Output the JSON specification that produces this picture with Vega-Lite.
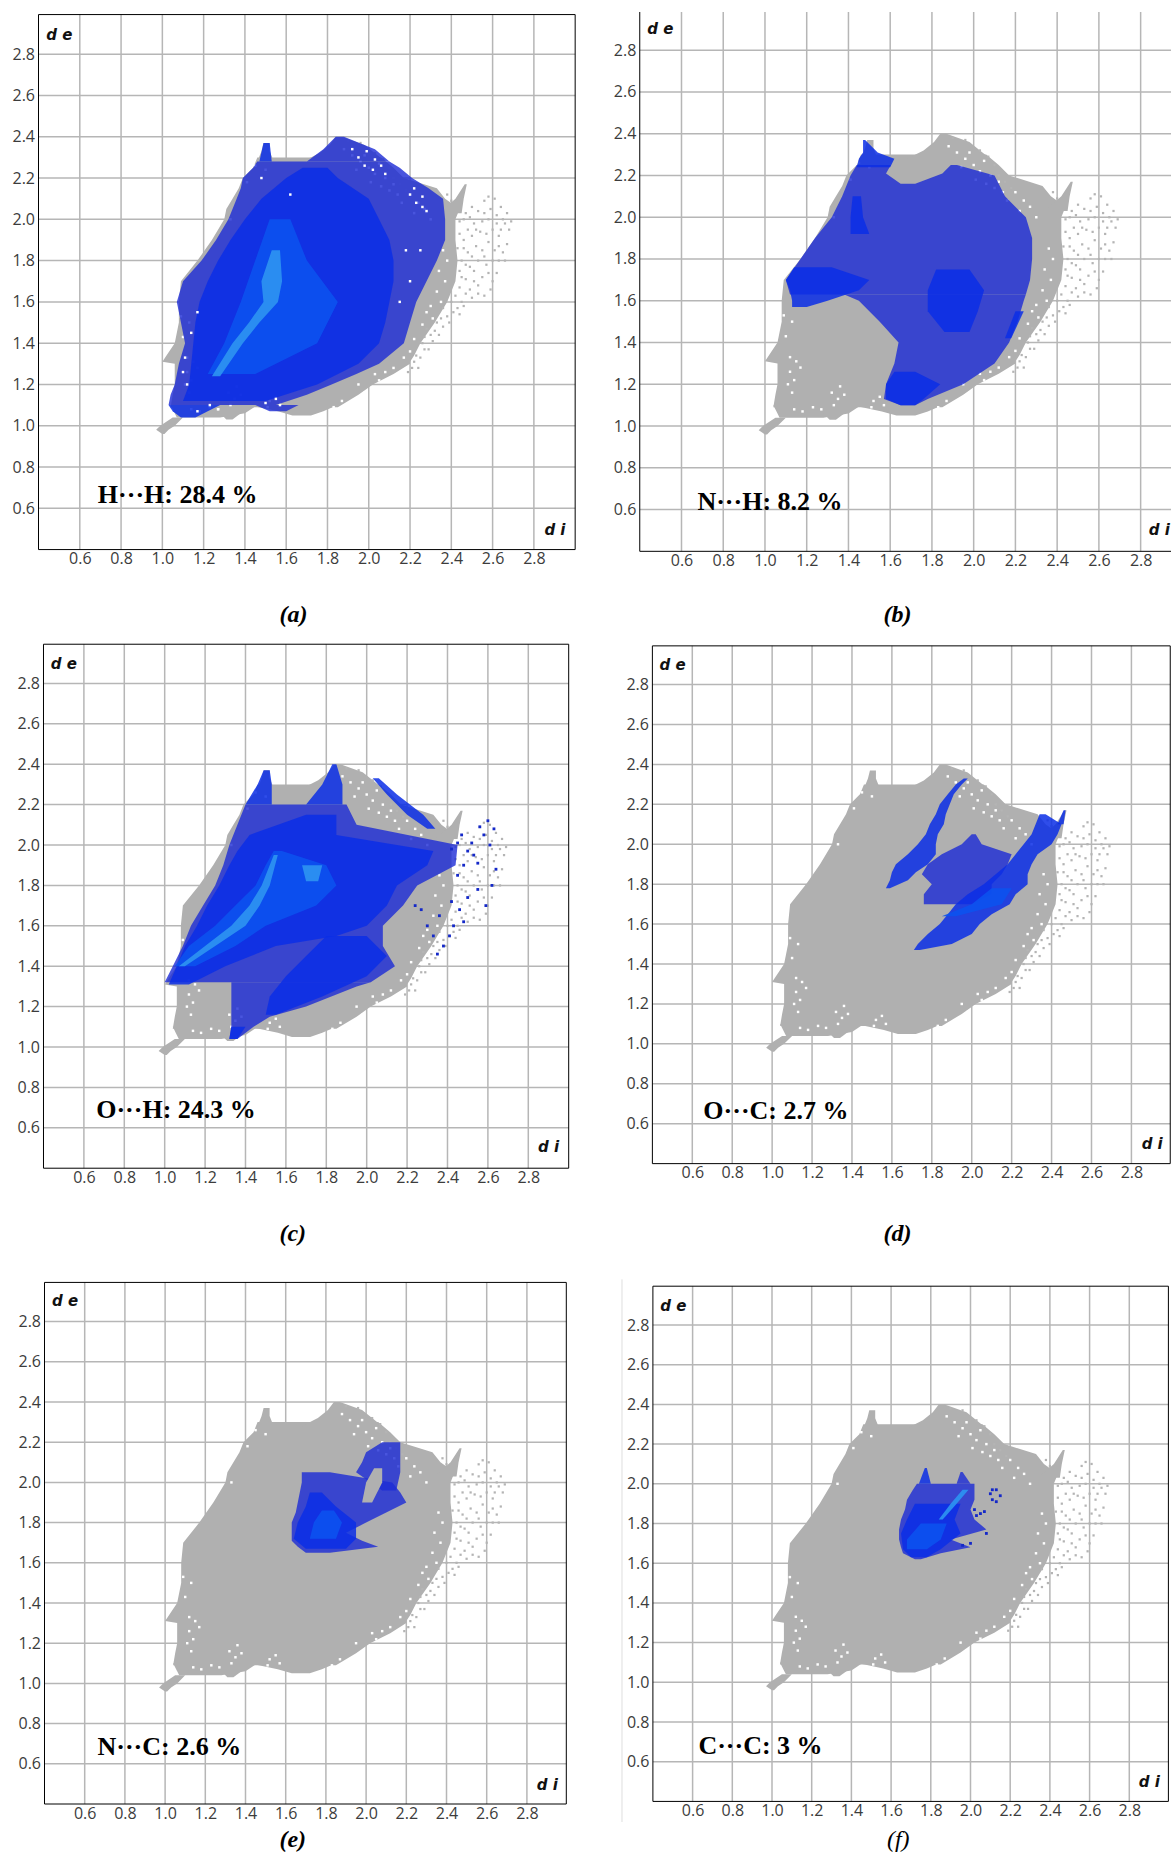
{"$schema":"https://vega.github.io/schema/vega-lite/v6.json","padding":0,"background":"white","spacing":0,"bounds":"full",
"config":{"view":{"stroke":null},"concat":{"spacing":0},"axis":{"title":null,"domain":false,"ticks":false,"grid":false,"labelFont":"Open Sans","labelFontSize":16,"labelColor":"#3c3c3c","labelOverlap":false,"labelFlush":false}},
"datasets":{
"ticks":[{"v":0.6},{"v":0.8},{"v":1.0},{"v":1.2},{"v":1.4},{"v":1.6},{"v":1.8},{"v":2.0},{"v":2.2},{"v":2.4},{"v":2.6},{"v":2.8}],
"grey":[
{"part":"tail","de":0.96,"di0":1.0,"di1":1.01},{"part":"tail","de":0.98,"di0":0.97,"di1":1.03},{"part":"tail","de":1.0,"di0":0.99,"di1":1.06},{"part":"tail","de":1.04,"di0":1.05,"di1":1.1},
{"part":"bl","de":1.04,"di0":1.07,"di1":1.28},{"part":"bl","de":1.06,"di0":1.06,"di1":1.4},{"part":"bl","de":1.1,"di0":1.04,"di1":1.46},
{"part":"bump","de":1.03,"di0":1.31,"di1":1.34},{"part":"bump","de":1.06,"di0":1.28,"di1":1.38},
{"part":"bm","de":1.05,"di0":1.63,"di1":1.72},{"part":"bm","de":1.07,"di0":1.56,"di1":1.78},{"part":"bm","de":1.1,"di0":1.42,"di1":1.85},
{"part":"main","de":1.09,"di0":1.04,"di1":1.85},{"part":"main","de":1.15,"di0":1.05,"di1":1.95},{"part":"main","de":1.2,"di0":1.06,"di1":2.02},{"part":"main","de":1.25,"di0":1.06,"di1":2.12},{"part":"main","de":1.3,"di0":1.06,"di1":2.2},{"part":"main","de":1.31,"di0":1.0,"di1":2.2},{"part":"main","de":1.34,"di0":1.02,"di1":2.22},{"part":"main","de":1.4,"di0":1.06,"di1":2.25},{"part":"main","de":1.5,"di0":1.08,"di1":2.32},{"part":"main","de":1.6,"di0":1.08,"di1":2.38},{"part":"main","de":1.7,"di0":1.09,"di1":2.42},{"part":"main","de":1.8,"di0":1.17,"di1":2.43},{"part":"main","de":1.9,"di0":1.24,"di1":2.42},{"part":"main","de":2.0,"di0":1.3,"di1":2.42},{"part":"main","de":2.05,"di0":1.31,"di1":2.44},{"part":"main","de":2.1,"di0":1.34,"di1":2.37},{"part":"main","de":2.15,"di0":1.37,"di1":2.33},{"part":"main","de":2.2,"di0":1.39,"di1":2.17},{"part":"main","de":2.25,"di0":1.44,"di1":2.12},{"part":"main","de":2.3,"di0":1.46,"di1":2.06},
{"part":"spike1","de":2.28,"di0":1.46,"di1":1.54},{"part":"spike1","de":2.33,"di0":1.48,"di1":1.52},{"part":"spike1","de":2.37,"di0":1.49,"di1":1.52},
{"part":"top","de":2.28,"di0":1.68,"di1":2.08},{"part":"top","de":2.32,"di0":1.76,"di1":2.03},{"part":"top","de":2.36,"di0":1.81,"di1":1.98},{"part":"top","de":2.4,"di0":1.84,"di1":1.87},
{"part":"spike2","de":2.03,"di0":2.34,"di1":2.45},{"part":"spike2","de":2.1,"di0":2.42,"di1":2.46},{"part":"spike2","de":2.17,"di0":2.465,"di1":2.475}],
"greyDots":[{"di":2.44,"de":1.99},{"di":2.47,"de":2.03},{"di":2.5,"de":2.06},{"di":2.53,"de":2.04},{"di":2.56,"de":2.09},{"di":2.58,"de":2.11},{"di":2.61,"de":2.1},{"di":2.64,"de":2.06},{"di":2.67,"de":2.03},{"di":2.69,"de":1.99},{"di":2.68,"de":1.95},{"di":2.66,"de":1.98},{"di":2.62,"de":2.02},{"di":2.58,"de":2.0},{"di":2.55,"de":1.99},{"di":2.51,"de":1.98},{"di":2.48,"de":1.95},{"di":2.46,"de":1.9},{"di":2.5,"de":1.92},{"di":2.54,"de":1.94},{"di":2.6,"de":1.95},{"di":2.63,"de":1.92},{"di":2.67,"de":1.88},{"di":2.65,"de":1.84},{"di":2.66,"de":1.8},{"di":2.61,"de":1.85},{"di":2.58,"de":1.89},{"di":2.55,"de":1.85},{"di":2.52,"de":1.87},{"di":2.48,"de":1.84},{"di":2.45,"de":1.8},{"di":2.44,"de":1.75},{"di":2.49,"de":1.77},{"di":2.53,"de":1.8},{"di":2.57,"de":1.78},{"di":2.6,"de":1.8},{"di":2.62,"de":1.74},{"di":2.6,"de":1.7},{"di":2.59,"de":1.66},{"di":2.55,"de":1.72},{"di":2.51,"de":1.7},{"di":2.47,"de":1.71},{"di":2.44,"de":1.67},{"di":2.47,"de":1.64},{"di":2.5,"de":1.62},{"di":2.53,"de":1.64},{"di":2.56,"de":1.63},{"di":2.45,"de":1.6},{"di":2.41,"de":1.55},{"di":2.44,"de":1.54},{"di":2.4,"de":1.6},{"di":2.42,"de":1.63},{"di":2.38,"de":1.53},{"di":2.36,"de":1.48},{"di":2.33,"de":1.5},{"di":2.34,"de":1.44},{"di":2.31,"de":1.41},{"di":2.29,"de":1.37},{"di":2.27,"de":1.43},{"di":2.25,"de":1.33},{"di":2.22,"de":1.31},{"di":2.24,"de":1.28},{"di":2.19,"de":1.26},{"di":2.28,"de":1.47},{"di":2.36,"de":1.57},{"di":2.43,"de":1.86},{"di":2.44,"de":1.93},{"di":2.4,"de":2.09},{"di":2.38,"de":2.12},{"di":2.15,"de":2.17},{"di":2.18,"de":2.14},{"di":2.1,"de":2.25},{"di":2.12,"de":2.2},{"di":2.03,"de":2.32},{"di":2.07,"de":2.29},{"di":1.96,"de":2.37},{"di":1.9,"de":2.38},{"di":2.46,"de":2.0},{"di":2.49,"de":2.01},{"di":2.52,"de":1.95},{"di":2.56,"de":2.03},{"di":2.59,"de":2.05},{"di":2.62,"de":1.98},{"di":2.65,"de":2.0},{"di":2.64,"de":1.95},{"di":2.57,"de":1.93},{"di":2.5,"de":1.82},{"di":2.46,"de":1.86},{"di":2.47,"de":1.78},{"di":2.51,"de":1.75},{"di":2.56,"de":1.82},{"di":2.63,"de":1.87},{"di":2.63,"de":1.8},{"di":2.58,"de":1.74},{"di":2.53,"de":1.68},{"di":2.49,"de":1.66},{"di":2.45,"de":1.72},{"di":2.46,"de":1.58},{"di":2.43,"de":1.57},{"di":2.39,"de":1.5},{"di":2.35,"de":1.52},{"di":2.32,"de":1.46},{"di":2.3,"de":1.44},{"di":2.27,"de":1.37},{"di":2.26,"de":1.4},{"di":2.23,"de":1.34},{"di":2.21,"de":1.28}],
"whiteDots":[{"di":1.96,"de":2.28},{"di":2.0,"de":2.25},{"di":2.03,"de":2.22},{"di":2.05,"de":2.27},{"di":1.98,"de":2.31},{"di":2.08,"de":2.2},{"di":2.12,"de":2.17},{"di":2.14,"de":2.12},{"di":2.1,"de":2.14},{"di":2.16,"de":2.08},{"di":2.2,"de":2.12},{"di":2.24,"de":2.08},{"di":2.27,"de":2.05},{"di":2.22,"de":2.03},{"di":2.3,"de":2.0},{"di":1.92,"de":2.31},{"di":1.88,"de":2.34},{"di":2.01,"de":2.18},{"di":1.94,"de":2.24},{"di":2.06,"de":2.16},{"di":2.36,"de":1.85},{"di":2.38,"de":1.8},{"di":2.34,"de":1.75},{"di":2.37,"de":1.7},{"di":2.33,"de":1.65},{"di":2.35,"de":1.6},{"di":2.3,"de":1.58},{"di":2.31,"de":1.52},{"di":2.28,"de":1.55},{"di":2.26,"de":1.49},{"di":2.22,"de":1.42},{"di":2.2,"de":1.36},{"di":2.17,"de":1.33},{"di":2.12,"de":1.28},{"di":2.08,"de":1.26},{"di":2.05,"de":1.22},{"di":2.03,"de":1.25},{"di":1.12,"de":1.33},{"di":1.15,"de":1.31},{"di":1.12,"de":1.26},{"di":1.17,"de":1.28},{"di":1.14,"de":1.22},{"di":1.11,"de":1.2},{"di":1.13,"de":1.16},{"di":1.1,"de":1.43},{"di":1.13,"de":1.5},{"di":1.09,"de":1.53},{"di":1.14,"de":1.08},{"di":1.18,"de":1.07},{"di":1.23,"de":1.09},{"di":1.27,"de":1.08},{"di":1.32,"de":1.16},{"di":1.35,"de":1.13},{"di":1.38,"de":1.15},{"di":1.33,"de":1.1},{"di":1.36,"de":1.19},{"di":1.52,"de":1.12},{"di":1.55,"de":1.14},{"di":1.51,"de":1.09},{"di":1.57,"de":1.1},{"di":1.83,"de":1.09},{"di":1.87,"de":1.12},{"di":1.95,"de":1.2},{"di":1.98,"de":1.16},{"di":1.45,"de":2.26},{"di":1.5,"de":2.24},{"di":1.41,"de":2.18},{"di":1.33,"de":2.0}],
"whiteA":[{"di":1.95,"de":2.3},{"di":1.99,"de":2.33},{"di":2.03,"de":2.29},{"di":2.06,"de":2.26},{"di":1.98,"de":2.26},{"di":2.02,"de":2.24},{"di":1.92,"de":2.34},{"di":2.08,"de":2.22},{"di":2.2,"de":2.12},{"di":2.23,"de":2.08},{"di":2.26,"de":2.06},{"di":2.22,"de":2.15},{"di":2.26,"de":2.11},{"di":2.28,"de":2.04},{"di":1.23,"de":1.1},{"di":1.27,"de":1.08},{"di":1.17,"de":1.07},{"di":1.12,"de":1.2},{"di":1.1,"de":1.26},{"di":1.11,"de":1.33},{"di":1.5,"de":1.11},{"di":1.55,"de":1.13},{"di":1.57,"de":1.1},{"di":1.14,"de":1.45},{"di":1.17,"de":1.55},{"di":2.15,"de":1.6},{"di":2.2,"de":1.7},{"di":2.25,"de":1.85},{"di":2.18,"de":1.85},{"di":1.62,"de":2.12},{"di":1.48,"de":2.2}],
"blue_a":[
{"part":"f","lvl":"f","de":1.1,"di0":1.03,"di1":1.55},{"part":"f","lvl":"f","de":1.15,"di0":1.04,"di1":1.7},{"part":"f","lvl":"f","de":1.2,"di0":1.06,"di1":1.82},{"part":"f","lvl":"f","de":1.25,"di0":1.07,"di1":1.94},{"part":"f","lvl":"f","de":1.3,"di0":1.08,"di1":2.05},{"part":"f","lvl":"f","de":1.4,"di0":1.11,"di1":2.17},{"part":"f","lvl":"f","de":1.5,"di0":1.09,"di1":2.2},{"part":"f","lvl":"f","de":1.6,"di0":1.07,"di1":2.23},{"part":"f","lvl":"f","de":1.7,"di0":1.1,"di1":2.28},{"part":"f","lvl":"f","de":1.8,"di0":1.19,"di1":2.33},{"part":"f","lvl":"f","de":1.9,"di0":1.26,"di1":2.37},{"part":"f","lvl":"f","de":2.0,"di0":1.32,"di1":2.37},{"part":"f","lvl":"f","de":2.1,"di0":1.36,"di1":2.36},{"part":"f","lvl":"f","de":2.15,"di0":1.38,"di1":2.29},{"part":"f","lvl":"f","de":2.2,"di0":1.39,"di1":2.21},{"part":"f","lvl":"f","de":2.25,"di0":1.44,"di1":2.15},{"part":"f","lvl":"f","de":2.28,"di0":1.46,"di1":2.1},
{"part":"t","lvl":"f","de":2.28,"di0":1.7,"di1":2.1},{"part":"t","lvl":"f","de":2.34,"di0":1.78,"di1":2.03},{"part":"t","lvl":"f","de":2.4,"di0":1.84,"di1":1.88},
{"part":"b1","lvl":"s","de":1.04,"di0":1.09,"di1":1.16},{"part":"b1","lvl":"s","de":1.07,"di0":1.05,"di1":1.22},{"part":"b1","lvl":"s","de":1.1,"di0":1.03,"di1":1.28},
{"part":"b2","lvl":"f","de":1.07,"di0":1.52,"di1":1.6},{"part":"b2","lvl":"f","de":1.1,"di0":1.45,"di1":1.66},
{"part":"sp","lvl":"s","de":2.28,"di0":1.47,"di1":1.53},{"part":"sp","lvl":"s","de":2.37,"di0":1.49,"di1":1.52},
{"part":"c","lvl":"s","de":1.12,"di0":1.1,"di1":1.5},{"part":"c","lvl":"s","de":1.2,"di0":1.13,"di1":1.75},{"part":"c","lvl":"s","de":1.3,"di0":1.14,"di1":1.95},{"part":"c","lvl":"s","de":1.4,"di0":1.15,"di1":2.05},{"part":"c","lvl":"s","de":1.5,"di0":1.16,"di1":2.08},{"part":"c","lvl":"s","de":1.6,"di0":1.18,"di1":2.1},{"part":"c","lvl":"s","de":1.7,"di0":1.22,"di1":2.12},{"part":"c","lvl":"s","de":1.8,"di0":1.27,"di1":2.12},{"part":"c","lvl":"s","de":1.9,"di0":1.33,"di1":2.1},{"part":"c","lvl":"s","de":2.0,"di0":1.4,"di1":2.05},{"part":"c","lvl":"s","de":2.1,"di0":1.48,"di1":2.0},{"part":"c","lvl":"s","de":2.2,"di0":1.6,"di1":1.85},{"part":"c","lvl":"s","de":2.25,"di0":1.68,"di1":1.8},
{"part":"m","lvl":"m","de":1.25,"di0":1.22,"di1":1.45},{"part":"m","lvl":"m","de":1.4,"di0":1.3,"di1":1.75},{"part":"m","lvl":"m","de":1.6,"di0":1.38,"di1":1.85},{"part":"m","lvl":"m","de":1.8,"di0":1.45,"di1":1.7},{"part":"m","lvl":"m","de":2.0,"di0":1.52,"di1":1.62},
{"part":"h","lvl":"h","de":1.24,"di0":1.24,"di1":1.28},{"part":"h","lvl":"h","de":1.4,"di0":1.34,"di1":1.39},{"part":"h","lvl":"h","de":1.5,"di0":1.42,"di1":1.47},{"part":"h","lvl":"h","de":1.6,"di0":1.49,"di1":1.56},{"part":"h","lvl":"h","de":1.7,"di0":1.48,"di1":1.58},{"part":"h","lvl":"h","de":1.85,"di0":1.53,"di1":1.57}],
"blue_b":[
{"part":"u","lvl":"f","de":1.63,"di0":1.12,"di1":2.25},{"part":"u","lvl":"f","de":1.7,"di0":1.1,"di1":2.27},{"part":"u","lvl":"f","de":1.8,"di0":1.17,"di1":2.28},{"part":"u","lvl":"f","de":1.9,"di0":1.24,"di1":2.28},{"part":"u","lvl":"f","de":2.0,"di0":1.32,"di1":2.25},{"part":"u","lvl":"f","de":2.1,"di0":1.37,"di1":2.15},{"part":"u","lvl":"f","de":2.2,"di0":1.41,"di1":2.1},{"part":"u","lvl":"f","de":2.25,"di0":1.44,"di1":1.92},
{"part":"lr","lvl":"f","de":1.1,"di0":1.65,"di1":1.72},{"part":"lr","lvl":"f","de":1.13,"di0":1.57,"di1":1.78},{"part":"lr","lvl":"f","de":1.2,"di0":1.58,"di1":1.95},{"part":"lr","lvl":"f","de":1.3,"di0":1.62,"di1":2.1},{"part":"lr","lvl":"f","de":1.4,"di0":1.64,"di1":2.17},{"part":"lr","lvl":"f","de":1.5,"di0":1.55,"di1":2.21},{"part":"lr","lvl":"f","de":1.6,"di0":1.45,"di1":2.24},{"part":"lr","lvl":"f","de":1.63,"di0":1.38,"di1":2.25},
{"part":"w","lvl":"s","de":1.57,"di0":1.13,"di1":1.2},{"part":"w","lvl":"s","de":1.6,"di0":1.13,"di1":1.3},{"part":"w","lvl":"s","de":1.65,"di0":1.12,"di1":1.45},{"part":"w","lvl":"s","de":1.7,"di0":1.1,"di1":1.5},{"part":"w","lvl":"s","de":1.76,"di0":1.14,"di1":1.32},
{"part":"gb","lvl":"g","de":2.16,"di0":1.65,"di1":1.72},{"part":"gb","lvl":"g","de":2.21,"di0":1.58,"di1":1.85},{"part":"gb","lvl":"g","de":2.28,"di0":1.62,"di1":1.92},
{"part":"tp","lvl":"s","de":2.24,"di0":1.44,"di1":1.6},{"part":"tp","lvl":"s","de":2.28,"di0":1.45,"di1":1.62},{"part":"tp","lvl":"s","de":2.31,"di0":1.47,"di1":1.54},{"part":"tp","lvl":"s","de":2.37,"di0":1.47,"di1":1.48},
{"part":"n","lvl":"s","de":1.92,"di0":1.41,"di1":1.5},{"part":"n","lvl":"s","de":2.0,"di0":1.41,"di1":1.47},{"part":"n","lvl":"s","de":2.1,"di0":1.42,"di1":1.46},
{"part":"bt","lvl":"s","de":1.1,"di0":1.65,"di1":1.72},{"part":"bt","lvl":"s","de":1.13,"di0":1.58,"di1":1.76},{"part":"bt","lvl":"s","de":1.2,"di0":1.58,"di1":1.84},{"part":"bt","lvl":"s","de":1.26,"di0":1.62,"di1":1.72},
{"part":"md","lvl":"s","de":1.45,"di0":1.86,"di1":1.98},{"part":"md","lvl":"s","de":1.55,"di0":1.78,"di1":2.02},{"part":"md","lvl":"s","de":1.65,"di0":1.78,"di1":2.05},{"part":"md","lvl":"s","de":1.75,"di0":1.82,"di1":1.98},
{"part":"r","lvl":"s","de":1.42,"di0":2.15,"di1":2.18},{"part":"r","lvl":"s","de":1.55,"di0":2.2,"di1":2.24}],
"blue_c":[
{"part":"main","lvl":"f","de":1.32,"di0":1.0,"di1":2.02},{"part":"main","lvl":"f","de":1.4,"di0":1.04,"di1":2.14},{"part":"main","lvl":"f","de":1.5,"di0":1.09,"di1":2.08},{"part":"main","lvl":"f","de":1.6,"di0":1.13,"di1":2.08},{"part":"main","lvl":"f","de":1.7,"di0":1.19,"di1":2.18},{"part":"main","lvl":"f","de":1.8,"di0":1.25,"di1":2.25},{"part":"main","lvl":"f","de":1.9,"di0":1.29,"di1":2.44},{"part":"main","lvl":"f","de":2.0,"di0":1.32,"di1":2.45},{"part":"main","lvl":"f","de":2.1,"di0":1.36,"di1":1.95},{"part":"main","lvl":"f","de":2.2,"di0":1.4,"di1":1.9},
{"part":"low","lvl":"f","de":1.04,"di0":1.32,"di1":1.36},{"part":"low","lvl":"f","de":1.1,"di0":1.33,"di1":1.44},{"part":"low","lvl":"f","de":1.15,"di0":1.33,"di1":1.52},{"part":"low","lvl":"f","de":1.2,"di0":1.33,"di1":1.7},{"part":"low","lvl":"f","de":1.3,"di0":1.33,"di1":1.95},{"part":"low","lvl":"f","de":1.32,"di0":1.33,"di1":2.02},
{"part":"s1","lvl":"s","de":2.2,"di0":1.4,"di1":1.53},{"part":"s1","lvl":"s","de":2.3,"di0":1.46,"di1":1.53},{"part":"s1","lvl":"s","de":2.37,"di0":1.49,"di1":1.52},
{"part":"s2","lvl":"s","de":2.2,"di0":1.7,"di1":1.88},{"part":"s2","lvl":"s","de":2.3,"di0":1.78,"di1":1.88},{"part":"s2","lvl":"s","de":2.4,"di0":1.83,"di1":1.85},
{"part":"tr","lvl":"s","de":2.08,"di0":2.3,"di1":2.34},{"part":"tr","lvl":"s","de":2.15,"di0":2.2,"di1":2.28},{"part":"tr","lvl":"s","de":2.25,"di0":2.1,"di1":2.15},{"part":"tr","lvl":"s","de":2.33,"di0":2.03,"di1":2.06},
{"part":"core","lvl":"s","de":1.31,"di0":1.02,"di1":1.12},{"part":"core","lvl":"s","de":1.4,"di0":1.06,"di1":1.3},{"part":"core","lvl":"s","de":1.5,"di0":1.1,"di1":1.55},{"part":"core","lvl":"s","de":1.55,"di0":1.13,"di1":1.85},{"part":"core","lvl":"s","de":1.6,"di0":1.16,"di1":2.0},{"part":"core","lvl":"s","de":1.7,"di0":1.21,"di1":2.1},{"part":"core","lvl":"s","de":1.8,"di0":1.27,"di1":2.15},{"part":"core","lvl":"s","de":1.9,"di0":1.32,"di1":2.3},{"part":"core","lvl":"s","de":1.97,"di0":1.36,"di1":2.33},{"part":"core","lvl":"s","de":2.05,"di0":1.42,"di1":1.85},{"part":"core","lvl":"s","de":2.15,"di0":1.7,"di1":1.85},
{"part":"la","lvl":"s","de":1.04,"di0":1.32,"di1":1.36},{"part":"la","lvl":"s","de":1.1,"di0":1.33,"di1":1.4},{"part":"la2","lvl":"s","de":1.16,"di0":1.5,"di1":1.55},{"part":"la2","lvl":"s","de":1.25,"di0":1.52,"di1":1.78},{"part":"la2","lvl":"s","de":1.35,"di0":1.6,"di1":2.0},{"part":"la2","lvl":"s","de":1.45,"di0":1.7,"di1":2.1},{"part":"la2","lvl":"s","de":1.55,"di0":1.8,"di1":2.0},
{"part":"m","lvl":"m","de":1.4,"di0":1.05,"di1":1.15},{"part":"m","lvl":"m","de":1.5,"di0":1.12,"di1":1.35},{"part":"m","lvl":"m","de":1.6,"di0":1.25,"di1":1.5},{"part":"m","lvl":"m","de":1.7,"di0":1.35,"di1":1.75},{"part":"m","lvl":"m","de":1.8,"di0":1.45,"di1":1.85},{"part":"m","lvl":"m","de":1.9,"di0":1.5,"di1":1.8},{"part":"m","lvl":"m","de":1.97,"di0":1.54,"di1":1.58},
{"part":"h","lvl":"h","de":1.4,"di0":1.07,"di1":1.1},{"part":"h","lvl":"h","de":1.5,"di0":1.2,"di1":1.25},{"part":"h","lvl":"h","de":1.6,"di0":1.33,"di1":1.4},{"part":"h","lvl":"h","de":1.7,"di0":1.42,"di1":1.47},{"part":"h","lvl":"h","de":1.8,"di0":1.48,"di1":1.52},{"part":"h","lvl":"h","de":1.95,"di0":1.54,"di1":1.56},
{"part":"h2","lvl":"h","de":1.82,"di0":1.7,"di1":1.76},{"part":"h2","lvl":"h","de":1.9,"di0":1.68,"di1":1.78}],
"dots_c":[{"di":2.42,"de":1.98},{"di":2.45,"de":2.01},{"di":2.47,"de":2.05},{"di":2.5,"de":1.97},{"di":2.53,"de":1.95},{"di":2.55,"de":1.91},{"di":2.52,"de":2.01},{"di":2.58,"de":2.05},{"di":2.61,"de":2.0},{"di":2.63,"de":2.08},{"di":2.6,"de":2.12},{"di":2.56,"de":2.09},{"di":2.64,"de":1.88},{"di":2.62,"de":1.8},{"di":2.59,"de":1.7},{"di":2.55,"de":1.78},{"di":2.5,"de":1.74},{"di":2.46,"de":1.68},{"di":2.48,"de":1.62},{"di":2.43,"de":1.6},{"di":2.41,"de":1.55},{"di":2.38,"de":1.5},{"di":2.35,"de":1.46},{"di":2.33,"de":1.55},{"di":2.3,"de":1.6},{"di":2.27,"de":1.68},{"di":2.24,"de":1.7},{"di":2.36,"de":1.65},{"di":2.42,"de":1.72},{"di":2.45,"de":1.85},{"di":2.48,"de":1.9}],
"blue_d":[
{"part":"l","lvl":"s","de":1.78,"di0":1.57,"di1":1.59},{"part":"l","lvl":"s","de":1.82,"di0":1.59,"di1":1.68},{"part":"l","lvl":"s","de":1.86,"di0":1.6,"di1":1.72},{"part":"l","lvl":"s","de":1.9,"di0":1.62,"di1":1.78},{"part":"l","lvl":"s","de":1.95,"di0":1.68,"di1":1.82},{"part":"l","lvl":"s","de":2.0,"di0":1.73,"di1":1.82},{"part":"l","lvl":"s","de":2.05,"di0":1.77,"di1":1.83},{"part":"l","lvl":"s","de":2.1,"di0":1.79,"di1":1.86},{"part":"l","lvl":"s","de":2.15,"di0":1.82,"di1":1.87},{"part":"l","lvl":"s","de":2.2,"di0":1.84,"di1":1.89},{"part":"l","lvl":"s","de":2.25,"di0":1.88,"di1":1.91},{"part":"l","lvl":"s","de":2.3,"di0":1.92,"di1":1.95},{"part":"l","lvl":"s","de":2.33,"di0":1.96,"di1":1.98},
{"part":"mid","lvl":"f","de":1.7,"di0":1.76,"di1":2.0},{"part":"mid","lvl":"f","de":1.75,"di0":1.76,"di1":2.1},{"part":"mid","lvl":"f","de":1.8,"di0":1.8,"di1":2.1},{"part":"mid","lvl":"f","de":1.85,"di0":1.75,"di1":2.15},{"part":"mid","lvl":"f","de":1.9,"di0":1.78,"di1":2.18},{"part":"mid","lvl":"f","de":1.95,"di0":1.85,"di1":2.2},{"part":"mid","lvl":"f","de":2.0,"di0":1.95,"di1":2.05},{"part":"mid","lvl":"f","de":2.05,"di0":2.0,"di1":2.02},
{"part":"m","lvl":"s","de":1.47,"di0":1.71,"di1":1.74},{"part":"m","lvl":"s","de":1.5,"di0":1.73,"di1":1.9},{"part":"m","lvl":"s","de":1.55,"di0":1.78,"di1":2.0},{"part":"m","lvl":"s","de":1.6,"di0":1.84,"di1":2.04},{"part":"m","lvl":"s","de":1.65,"di0":1.88,"di1":2.1},{"part":"m","lvl":"s","de":1.7,"di0":1.92,"di1":2.19},{"part":"m","lvl":"s","de":1.75,"di0":1.98,"di1":2.22},{"part":"m","lvl":"s","de":1.8,"di0":2.06,"di1":2.28},{"part":"m","lvl":"s","de":1.85,"di0":2.12,"di1":2.28},{"part":"m","lvl":"s","de":1.9,"di0":2.18,"di1":2.3},{"part":"m","lvl":"s","de":1.95,"di0":2.22,"di1":2.33},{"part":"m","lvl":"s","de":2.0,"di0":2.26,"di1":2.4},{"part":"m","lvl":"s","de":2.05,"di0":2.3,"di1":2.43},{"part":"m","lvl":"s","de":2.1,"di0":2.32,"di1":2.45},{"part":"m","lvl":"s","de":2.15,"di0":2.34,"di1":2.37},
{"part":"tip","lvl":"s","de":2.1,"di0":2.43,"di1":2.46},{"part":"tip","lvl":"s","de":2.17,"di0":2.46,"di1":2.47},
{"part":"br","lvl":"m","de":1.64,"di0":1.85,"di1":1.92},{"part":"br","lvl":"m","de":1.7,"di0":2.0,"di1":2.15},{"part":"br","lvl":"m","de":1.78,"di0":2.1,"di1":2.2}],
"blue_e":[
{"part":"f","lvl":"f","de":1.65,"di0":1.7,"di1":1.82},{"part":"f","lvl":"f","de":1.68,"di0":1.66,"di1":2.06},{"part":"f","lvl":"f","de":1.71,"di0":1.63,"di1":1.98},{"part":"f","lvl":"f","de":1.75,"di0":1.63,"di1":1.9},{"part":"f","lvl":"f","de":1.8,"di0":1.63,"di1":2.0},{"part":"f","lvl":"f","de":1.85,"di0":1.65,"di1":2.1},{"part":"f","lvl":"f","de":1.9,"di0":1.66,"di1":2.2},{"part":"f","lvl":"f","de":1.95,"di0":1.67,"di1":2.17},{"part":"f","lvl":"f","de":2.0,"di0":1.68,"di1":2.13},{"part":"f","lvl":"f","de":2.05,"di0":1.68,"di1":1.82},
{"part":"u","lvl":"f","de":1.96,"di0":2.08,"di1":2.15},{"part":"u","lvl":"f","de":2.05,"di0":1.95,"di1":2.17},{"part":"u","lvl":"f","de":2.1,"di0":1.98,"di1":2.17},{"part":"u","lvl":"f","de":2.15,"di0":2.0,"di1":2.17},{"part":"u","lvl":"f","de":2.2,"di0":2.08,"di1":2.17},
{"part":"g1","lvl":"g","de":1.9,"di0":1.98,"di1":2.03},{"part":"g1","lvl":"g","de":2.0,"di0":2.0,"di1":2.08},{"part":"g1","lvl":"g","de":2.07,"di0":2.04,"di1":2.08},
{"part":"c","lvl":"s","de":1.67,"di0":1.7,"di1":1.9},{"part":"c","lvl":"s","de":1.72,"di0":1.64,"di1":1.95},{"part":"c","lvl":"s","de":1.8,"di0":1.66,"di1":1.95},{"part":"c","lvl":"s","de":1.88,"di0":1.7,"di1":1.85},{"part":"c","lvl":"s","de":1.95,"di0":1.72,"di1":1.78},
{"part":"m","lvl":"m","de":1.72,"di0":1.72,"di1":1.85},{"part":"m","lvl":"m","de":1.8,"di0":1.74,"di1":1.88},{"part":"m","lvl":"m","de":1.86,"di0":1.78,"di1":1.84}],
"blue_f":[
{"part":"f","lvl":"f","de":1.62,"di0":1.72,"di1":1.75},{"part":"f","lvl":"f","de":1.65,"di0":1.66,"di1":1.85},{"part":"f","lvl":"f","de":1.68,"di0":1.65,"di1":2.0},{"part":"f","lvl":"f","de":1.72,"di0":1.64,"di1":1.9},{"part":"f","lvl":"f","de":1.77,"di0":1.64,"di1":2.08},{"part":"f","lvl":"f","de":1.82,"di0":1.65,"di1":2.02},{"part":"f","lvl":"f","de":1.87,"di0":1.67,"di1":2.0},{"part":"f","lvl":"f","de":1.92,"di0":1.68,"di1":2.02},{"part":"f","lvl":"f","de":1.97,"di0":1.71,"di1":2.02},{"part":"f","lvl":"f","de":2.0,"di0":1.73,"di1":2.02},
{"part":"s1","lvl":"s","de":2.0,"di0":1.74,"di1":1.8},{"part":"s1","lvl":"s","de":2.08,"di0":1.77,"di1":1.78},{"part":"s2","lvl":"f","de":2.0,"di0":1.93,"di1":2.0},{"part":"s2","lvl":"f","de":2.06,"di0":1.95,"di1":1.96},
{"part":"c","lvl":"s","de":1.63,"di0":1.7,"di1":1.78},{"part":"c","lvl":"s","de":1.67,"di0":1.66,"di1":1.85},{"part":"c","lvl":"s","de":1.75,"di0":1.65,"di1":1.95},{"part":"c","lvl":"s","de":1.82,"di0":1.68,"di1":1.92},{"part":"c","lvl":"s","de":1.9,"di0":1.72,"di1":1.95},
{"part":"m","lvl":"m","de":1.67,"di0":1.68,"di1":1.78},{"part":"m","lvl":"m","de":1.72,"di0":1.68,"di1":1.85},{"part":"m","lvl":"m","de":1.8,"di0":1.75,"di1":1.88},
{"part":"h","lvl":"h","de":1.82,"di0":1.84,"di1":1.86},{"part":"h","lvl":"h","de":1.9,"di0":1.9,"di1":1.93},{"part":"h","lvl":"h","de":1.97,"di0":1.96,"di1":1.99}],
"dots_f":[{"di":2.1,"de":1.95},{"di":2.11,"de":1.92},{"di":2.13,"de":1.91},{"di":2.15,"de":1.94},{"di":2.13,"de":1.97},{"di":2.11,"de":1.97},{"di":2.07,"de":1.86},{"di":2.05,"de":1.85},{"di":2.03,"de":1.84},{"di":2.02,"de":1.87},{"di":2.08,"de":1.75},{"di":2.0,"de":1.7},{"di":1.96,"de":1.69}]
},
"hconcat":[
{"vconcat":[
{"width":590,"height":630,"layer":[
{"data":{"name":"ticks"},"mark":{"type":"rule","color":"#b6b6b6","strokeWidth":1.5},"encoding":{"x":{"field":"v","type":"quantitative","scale":{"domain":[0.2134,3.0719],"nice":false,"zero":false},"axis":{"offset":-80.6,"labelPadding":1,"values":[0.6,0.8,1.0,1.2,1.4,1.6,1.8,2.0,2.2,2.4,2.6,2.8],"format":".1f"}},"y":{"datum":0.4,"scale":{"domain":[0.0103,3.0626],"nice":false,"zero":false},"axis":{"offset":-38.5,"labelPadding":4,"values":[0.6,0.8,1.0,1.2,1.4,1.6,1.8,2.0,2.2,2.4,2.6,2.8],"format":".1f"}},"y2":{"datum":2.992}}},
{"data":{"name":"ticks"},"mark":{"type":"rule","color":"#b6b6b6","strokeWidth":1.5},"encoding":{"y":{"field":"v","type":"quantitative"},"x":{"datum":0.4},"x2":{"datum":3.0}}},
{"data":{"name":"grey"},"mark":{"type":"area","orient":"horizontal","color":"#b0b0b0"},"encoding":{"y":{"field":"de","type":"quantitative"},"x":{"field":"di0","type":"quantitative"},"x2":{"field":"di1"},"detail":{"field":"part"}}},
{"data":{"name":"whiteDots"},"mark":{"type":"square","size":6,"color":"white","opacity":1},"encoding":{"x":{"field":"di","type":"quantitative"},"y":{"field":"de","type":"quantitative"}}},
{"data":{"name":"greyDots"},"mark":{"type":"square","size":5,"color":"#b4b4b4","opacity":1},"encoding":{"x":{"field":"di","type":"quantitative"},"y":{"field":"de","type":"quantitative"}}},
{"data":{"name":"blue_a"},"mark":{"type":"area","orient":"horizontal"},"encoding":{"y":{"field":"de","type":"quantitative"},"x":{"field":"di0","type":"quantitative"},"x2":{"field":"di1"},"detail":{"field":"part"},"color":{"field":"lvl","type":"nominal","legend":null,"scale":{"domain":["f","s","m","h","g"],"range":["#1b2ad6","#0a2ee6","#0c52ee","#2c90f0","#b0b0b0"]}},"opacity":{"field":"lvl","type":"nominal","legend":null,"scale":{"domain":["f","s","m","h","g"],"range":[0.8,1,0.9,0.8,1]}}}},
{"data":{"name":"whiteA"},"mark":{"type":"square","size":6,"color":"white","opacity":1},"encoding":{"x":{"field":"di","type":"quantitative"},"y":{"field":"de","type":"quantitative"}}},
{"data":{"values":[{"a":0.4}]},"mark":{"type":"rule","color":"black","strokeWidth":1},"encoding":{"x":{"datum":0.4},"y":{"datum":0.4},"y2":{"datum":2.992}}},
{"data":{"values":[{"a":0.4}]},"mark":{"type":"rule","color":"black","strokeWidth":1},"encoding":{"x":{"datum":3.0},"y":{"datum":0.4},"y2":{"datum":2.992}}},
{"data":{"values":[{"a":0.4}]},"mark":{"type":"rule","color":"black","strokeWidth":1},"encoding":{"y":{"datum":0.4},"x":{"datum":0.4},"x2":{"datum":3.0}}},
{"data":{"values":[{"a":0.4}]},"mark":{"type":"rule","color":"black","strokeWidth":1},"encoding":{"y":{"datum":2.992},"x":{"datum":0.4},"x2":{"datum":3.0}}},
{"data":{"values":[{"di":0.501,"de":2.893,"t":"d e"},{"di":2.902,"de":0.497,"t":"d i"}]},"mark":{"type":"text","font":"DejaVu Sans","fontWeight":"bold","fontStyle":"italic","fontSize":15,"color":"#111"},"encoding":{"x":{"field":"di","type":"quantitative"},"y":{"field":"de","type":"quantitative"},"text":{"field":"t"}}},
{"data":{"values":[{"di":1.074,"de":0.664,"t":"H···H: 28.4 %"}]},"mark":{"type":"text","font":"Liberation Serif","fontWeight":"bold","fontSize":26,"color":"black"},"encoding":{"x":{"field":"di","type":"quantitative"},"y":{"field":"de","type":"quantitative"},"text":{"field":"t"}}},
{"data":{"values":[{"di":1.635,"de":0.084,"t":"(a)"}]},"mark":{"type":"text","font":"Liberation Serif","fontWeight":"bold","fontStyle":"italic","fontSize":24,"color":"black"},"encoding":{"x":{"field":"di","type":"quantitative"},"y":{"field":"de","type":"quantitative"},"text":{"field":"t"}}}
]},
{"width":590,"height":630,"layer":[
{"data":{"name":"ticks"},"mark":{"type":"rule","color":"#b6b6b6","strokeWidth":1.5},"encoding":{"x":{"field":"v","type":"quantitative","scale":{"domain":[0.1847,3.1055],"nice":false,"zero":false},"axis":{"offset":-91.8,"labelPadding":1,"values":[0.6,0.8,1.0,1.2,1.4,1.6,1.8,2.0,2.2,2.4,2.6,2.8],"format":".1f"}},"y":{"datum":0.4,"scale":{"domain":[-0.0544,3.0644],"nice":false,"zero":false},"axis":{"offset":-43.5,"labelPadding":4,"values":[0.6,0.8,1.0,1.2,1.4,1.6,1.8,2.0,2.2,2.4,2.6,2.8],"format":".1f"}},"y2":{"datum":2.994}}},
{"data":{"name":"ticks"},"mark":{"type":"rule","color":"#b6b6b6","strokeWidth":1.5},"encoding":{"y":{"field":"v","type":"quantitative"},"x":{"datum":0.4},"x2":{"datum":3.0}}},
{"data":{"name":"grey"},"mark":{"type":"area","orient":"horizontal","color":"#b0b0b0"},"encoding":{"y":{"field":"de","type":"quantitative"},"x":{"field":"di0","type":"quantitative"},"x2":{"field":"di1"},"detail":{"field":"part"}}},
{"data":{"name":"whiteDots"},"mark":{"type":"square","size":6,"color":"white","opacity":1},"encoding":{"x":{"field":"di","type":"quantitative"},"y":{"field":"de","type":"quantitative"}}},
{"data":{"name":"greyDots"},"mark":{"type":"square","size":5,"color":"#b4b4b4","opacity":1},"encoding":{"x":{"field":"di","type":"quantitative"},"y":{"field":"de","type":"quantitative"}}},
{"data":{"name":"blue_c"},"mark":{"type":"area","orient":"horizontal"},"encoding":{"y":{"field":"de","type":"quantitative"},"x":{"field":"di0","type":"quantitative"},"x2":{"field":"di1"},"detail":{"field":"part"},"color":{"field":"lvl","type":"nominal","legend":null,"scale":{"domain":["f","s","m","h","g"],"range":["#1b2ad6","#0a2ee6","#0c52ee","#2c90f0","#b0b0b0"]}},"opacity":{"field":"lvl","type":"nominal","legend":null,"scale":{"domain":["f","s","m","h","g"],"range":[0.8,1,0.9,0.8,1]}}}},
{"data":{"name":"dots_c"},"mark":{"type":"square","size":8,"color":"#1428c8","opacity":1},"encoding":{"x":{"field":"di","type":"quantitative"},"y":{"field":"de","type":"quantitative"}}},
{"data":{"values":[{"a":0.4}]},"mark":{"type":"rule","color":"black","strokeWidth":1},"encoding":{"x":{"datum":0.4},"y":{"datum":0.4},"y2":{"datum":2.994}}},
{"data":{"values":[{"a":0.4}]},"mark":{"type":"rule","color":"black","strokeWidth":1},"encoding":{"x":{"datum":3.0},"y":{"datum":0.4},"y2":{"datum":2.994}}},
{"data":{"values":[{"a":0.4}]},"mark":{"type":"rule","color":"black","strokeWidth":1},"encoding":{"y":{"datum":0.4},"x":{"datum":0.4},"x2":{"datum":3.0}}},
{"data":{"values":[{"a":0.4}]},"mark":{"type":"rule","color":"black","strokeWidth":1},"encoding":{"y":{"datum":2.994},"x":{"datum":0.4},"x2":{"datum":3.0}}},
{"data":{"values":[{"di":0.501,"de":2.898,"t":"d e"},{"di":2.9,"de":0.504,"t":"d i"}]},"mark":{"type":"text","font":"DejaVu Sans","fontWeight":"bold","fontStyle":"italic","fontSize":15,"color":"#111"},"encoding":{"x":{"field":"di","type":"quantitative"},"y":{"field":"de","type":"quantitative"},"text":{"field":"t"}}},
{"data":{"values":[{"di":1.056,"de":0.686,"t":"O···H: 24.3 %"}]},"mark":{"type":"text","font":"Liberation Serif","fontWeight":"bold","fontSize":26,"color":"black"},"encoding":{"x":{"field":"di","type":"quantitative"},"y":{"field":"de","type":"quantitative"},"text":{"field":"t"}}},
{"data":{"values":[{"di":1.634,"de":0.0734,"t":"(c)"}]},"mark":{"type":"text","font":"Liberation Serif","fontWeight":"bold","fontStyle":"italic","fontSize":24,"color":"black"},"encoding":{"x":{"field":"di","type":"quantitative"},"y":{"field":"de","type":"quantitative"},"text":{"field":"t"}}}
]},
{"width":590,"height":596,"layer":[
{"data":{"name":"ticks"},"mark":{"type":"rule","color":"#b6b6b6","strokeWidth":1.5},"encoding":{"x":{"field":"v","type":"quantitative","scale":{"domain":[0.1786,3.1139],"nice":false,"zero":false},"axis":{"offset":-52,"labelPadding":1,"values":[0.6,0.8,1.0,1.2,1.4,1.6,1.8,2.0,2.2,2.4,2.6,2.8],"format":".1f"}},"y":{"datum":0.4,"scale":{"domain":[0.1413,3.1065],"nice":false,"zero":false},"axis":{"offset":-44.5,"labelPadding":4,"values":[0.6,0.8,1.0,1.2,1.4,1.6,1.8,2.0,2.2,2.4,2.6,2.8],"format":".1f"}},"y2":{"datum":2.995}}},
{"data":{"name":"ticks"},"mark":{"type":"rule","color":"#b6b6b6","strokeWidth":1.5},"encoding":{"y":{"field":"v","type":"quantitative"},"x":{"datum":0.4},"x2":{"datum":2.996}}},
{"data":{"name":"grey"},"mark":{"type":"area","orient":"horizontal","color":"#b0b0b0"},"encoding":{"y":{"field":"de","type":"quantitative"},"x":{"field":"di0","type":"quantitative"},"x2":{"field":"di1"},"detail":{"field":"part"}}},
{"data":{"name":"whiteDots"},"mark":{"type":"square","size":6,"color":"white","opacity":1},"encoding":{"x":{"field":"di","type":"quantitative"},"y":{"field":"de","type":"quantitative"}}},
{"data":{"name":"greyDots"},"mark":{"type":"square","size":5,"color":"#b4b4b4","opacity":1},"encoding":{"x":{"field":"di","type":"quantitative"},"y":{"field":"de","type":"quantitative"}}},
{"data":{"name":"blue_e"},"mark":{"type":"area","orient":"horizontal"},"encoding":{"y":{"field":"de","type":"quantitative"},"x":{"field":"di0","type":"quantitative"},"x2":{"field":"di1"},"detail":{"field":"part"},"color":{"field":"lvl","type":"nominal","legend":null,"scale":{"domain":["f","s","m","h","g"],"range":["#1b2ad6","#0a2ee6","#0c52ee","#2c90f0","#b0b0b0"]}},"opacity":{"field":"lvl","type":"nominal","legend":null,"scale":{"domain":["f","s","m","h","g"],"range":[0.8,1,0.9,0.8,1]}}}},
{"data":{"values":[{"a":0.4}]},"mark":{"type":"rule","color":"black","strokeWidth":1},"encoding":{"x":{"datum":0.4},"y":{"datum":0.4},"y2":{"datum":2.995}}},
{"data":{"values":[{"a":0.4}]},"mark":{"type":"rule","color":"black","strokeWidth":1},"encoding":{"x":{"datum":2.996},"y":{"datum":0.4},"y2":{"datum":2.995}}},
{"data":{"values":[{"a":0.4}]},"mark":{"type":"rule","color":"black","strokeWidth":1},"encoding":{"y":{"datum":0.4},"x":{"datum":0.4},"x2":{"datum":2.996}}},
{"data":{"values":[{"a":0.4}]},"mark":{"type":"rule","color":"black","strokeWidth":1},"encoding":{"y":{"datum":2.995},"x":{"datum":0.4},"x2":{"datum":2.996}}},
{"data":{"values":[{"di":0.502,"de":2.902,"t":"d e"},{"di":2.902,"de":0.497,"t":"d i"}]},"mark":{"type":"text","font":"DejaVu Sans","fontWeight":"bold","fontStyle":"italic","fontSize":15,"color":"#111"},"encoding":{"x":{"field":"di","type":"quantitative"},"y":{"field":"de","type":"quantitative"},"text":{"field":"t"}}},
{"data":{"values":[{"di":1.021,"de":0.686,"t":"N···C: 2.6 %"}]},"mark":{"type":"text","font":"Liberation Serif","fontWeight":"bold","fontSize":26,"color":"black"},"encoding":{"x":{"field":"di","type":"quantitative"},"y":{"field":"de","type":"quantitative"},"text":{"field":"t"}}},
{"data":{"values":[{"di":1.635,"de":0.2185,"t":"(e)"}]},"mark":{"type":"text","font":"Liberation Serif","fontWeight":"bold","fontStyle":"italic","fontSize":24,"color":"black"},"encoding":{"x":{"field":"di","type":"quantitative"},"y":{"field":"de","type":"quantitative"},"text":{"field":"t"}}}
]}
]},
{"vconcat":[
{"width":581,"height":630,"layer":[
{"data":{"name":"ticks"},"mark":{"type":"rule","color":"#b6b6b6","strokeWidth":1.5},"encoding":{"x":{"field":"v","type":"quantitative","scale":{"domain":[0.1616,2.9455],"nice":false,"zero":false},"axis":{"offset":-78.7,"labelPadding":1,"values":[0.6,0.8,1.0,1.2,1.4,1.6,1.8,2.0,2.2,2.4,2.6,2.8],"format":".1f"}},"y":{"datum":0.4,"scale":{"domain":[0.0232,3.0404],"nice":false,"zero":false},"axis":{"offset":-49.8,"labelPadding":4,"values":[0.6,0.8,1.0,1.2,1.4,1.6,1.8,2.0,2.2,2.4,2.6,2.8],"format":".1f"}},"y2":{"datum":2.983}}},
{"data":{"name":"ticks"},"mark":{"type":"rule","color":"#b6b6b6","strokeWidth":1.5},"encoding":{"y":{"field":"v","type":"quantitative"},"x":{"datum":0.4},"x2":{"datum":2.9455}}},
{"data":{"name":"grey"},"mark":{"type":"area","orient":"horizontal","color":"#b0b0b0"},"encoding":{"y":{"field":"de","type":"quantitative"},"x":{"field":"di0","type":"quantitative"},"x2":{"field":"di1"},"detail":{"field":"part"}}},
{"data":{"name":"whiteDots"},"mark":{"type":"square","size":6,"color":"white","opacity":1},"encoding":{"x":{"field":"di","type":"quantitative"},"y":{"field":"de","type":"quantitative"}}},
{"data":{"name":"greyDots"},"mark":{"type":"square","size":5,"color":"#b4b4b4","opacity":1},"encoding":{"x":{"field":"di","type":"quantitative"},"y":{"field":"de","type":"quantitative"}}},
{"data":{"name":"blue_b"},"mark":{"type":"area","orient":"horizontal"},"encoding":{"y":{"field":"de","type":"quantitative"},"x":{"field":"di0","type":"quantitative"},"x2":{"field":"di1"},"detail":{"field":"part"},"color":{"field":"lvl","type":"nominal","legend":null,"scale":{"domain":["f","s","m","h","g"],"range":["#1b2ad6","#0a2ee6","#0c52ee","#2c90f0","#b0b0b0"]}},"opacity":{"field":"lvl","type":"nominal","legend":null,"scale":{"domain":["f","s","m","h","g"],"range":[0.8,1,0.9,0.8,1]}}}},
{"data":{"values":[{"a":0.4}]},"mark":{"type":"rule","color":"black","strokeWidth":1},"encoding":{"x":{"datum":0.4},"y":{"datum":0.4},"y2":{"datum":2.983}}},
{"data":{"values":[{"a":0.4}]},"mark":{"type":"rule","color":"black","strokeWidth":1},"encoding":{"y":{"datum":0.4},"x":{"datum":0.4},"x2":{"datum":2.9455}}},
{"data":{"values":[{"di":0.499,"de":2.9,"t":"d e"},{"di":2.89,"de":0.5,"t":"d i"}]},"mark":{"type":"text","font":"DejaVu Sans","fontWeight":"bold","fontStyle":"italic","fontSize":15,"color":"#111"},"encoding":{"x":{"field":"di","type":"quantitative"},"y":{"field":"de","type":"quantitative"},"text":{"field":"t"}}},
{"data":{"values":[{"di":1.024,"de":0.635,"t":"N···H: 8.2 %"}]},"mark":{"type":"text","font":"Liberation Serif","fontWeight":"bold","fontSize":26,"color":"black"},"encoding":{"x":{"field":"di","type":"quantitative"},"y":{"field":"de","type":"quantitative"},"text":{"field":"t"}}},
{"data":{"values":[{"di":1.635,"de":0.096,"t":"(b)"}]},"mark":{"type":"text","font":"Liberation Serif","fontWeight":"bold","fontStyle":"italic","fontSize":24,"color":"black"},"encoding":{"x":{"field":"di","type":"quantitative"},"y":{"field":"de","type":"quantitative"},"text":{"field":"t"}}}
]},
{"width":581,"height":630,"layer":[
{"data":{"name":"ticks"},"mark":{"type":"rule","color":"#b6b6b6","strokeWidth":1.5},"encoding":{"x":{"field":"v","type":"quantitative","scale":{"domain":[0.0875,2.9983],"nice":false,"zero":false},"axis":{"offset":-96.4,"labelPadding":1,"values":[0.6,0.8,1.0,1.2,1.4,1.6,1.8,2.0,2.2,2.4,2.6,2.8],"format":".1f"}},"y":{"datum":0.4,"scale":{"domain":[-0.0828,3.0735],"nice":false,"zero":false},"axis":{"offset":-62.4,"labelPadding":4,"values":[0.6,0.8,1.0,1.2,1.4,1.6,1.8,2.0,2.2,2.4,2.6,2.8],"format":".1f"}},"y2":{"datum":2.994}}},
{"data":{"name":"ticks"},"mark":{"type":"rule","color":"#b6b6b6","strokeWidth":1.5},"encoding":{"y":{"field":"v","type":"quantitative"},"x":{"datum":0.4},"x2":{"datum":2.9945}}},
{"data":{"name":"grey"},"mark":{"type":"area","orient":"horizontal","color":"#b0b0b0"},"encoding":{"y":{"field":"de","type":"quantitative"},"x":{"field":"di0","type":"quantitative"},"x2":{"field":"di1"},"detail":{"field":"part"}}},
{"data":{"name":"whiteDots"},"mark":{"type":"square","size":6,"color":"white","opacity":1},"encoding":{"x":{"field":"di","type":"quantitative"},"y":{"field":"de","type":"quantitative"}}},
{"data":{"name":"greyDots"},"mark":{"type":"square","size":5,"color":"#b4b4b4","opacity":1},"encoding":{"x":{"field":"di","type":"quantitative"},"y":{"field":"de","type":"quantitative"}}},
{"data":{"name":"blue_d"},"mark":{"type":"area","orient":"horizontal"},"encoding":{"y":{"field":"de","type":"quantitative"},"x":{"field":"di0","type":"quantitative"},"x2":{"field":"di1"},"detail":{"field":"part"},"color":{"field":"lvl","type":"nominal","legend":null,"scale":{"domain":["f","s","m","h","g"],"range":["#1b2ad6","#0a2ee6","#0c52ee","#2c90f0","#b0b0b0"]}},"opacity":{"field":"lvl","type":"nominal","legend":null,"scale":{"domain":["f","s","m","h","g"],"range":[0.8,1,0.9,0.8,1]}}}},
{"data":{"values":[{"a":0.4}]},"mark":{"type":"rule","color":"black","strokeWidth":1},"encoding":{"x":{"datum":0.4},"y":{"datum":0.4},"y2":{"datum":2.994}}},
{"data":{"values":[{"a":0.4}]},"mark":{"type":"rule","color":"black","strokeWidth":1},"encoding":{"x":{"datum":2.9945},"y":{"datum":0.4},"y2":{"datum":2.994}}},
{"data":{"values":[{"a":0.4}]},"mark":{"type":"rule","color":"black","strokeWidth":1},"encoding":{"y":{"datum":0.4},"x":{"datum":0.4},"x2":{"datum":2.9945}}},
{"data":{"values":[{"a":0.4}]},"mark":{"type":"rule","color":"black","strokeWidth":1},"encoding":{"y":{"datum":2.994},"x":{"datum":0.4},"x2":{"datum":2.9945}}},
{"data":{"values":[{"di":0.501,"de":2.899,"t":"d e"},{"di":2.904,"de":0.498,"t":"d i"}]},"mark":{"type":"text","font":"DejaVu Sans","fontWeight":"bold","fontStyle":"italic","fontSize":15,"color":"#111"},"encoding":{"x":{"field":"di","type":"quantitative"},"y":{"field":"de","type":"quantitative"},"text":{"field":"t"}}},
{"data":{"values":[{"di":1.019,"de":0.663,"t":"O···C: 2.7 %"}]},"mark":{"type":"text","font":"Liberation Serif","fontWeight":"bold","fontSize":26,"color":"black"},"encoding":{"x":{"field":"di","type":"quantitative"},"y":{"field":"de","type":"quantitative"},"text":{"field":"t"}}},
{"data":{"values":[{"di":1.628,"de":0.0485,"t":"(d)"}]},"mark":{"type":"text","font":"Liberation Serif","fontWeight":"bold","fontStyle":"italic","fontSize":24,"color":"black"},"encoding":{"x":{"field":"di","type":"quantitative"},"y":{"field":"de","type":"quantitative"},"text":{"field":"t"}}}
]},
{"width":581,"height":596,"layer":[
{"data":{"name":"ticks"},"mark":{"type":"rule","color":"#b6b6b6","strokeWidth":1.5},"encoding":{"x":{"field":"v","type":"quantitative","scale":{"domain":[0.0831,3.0101],"nice":false,"zero":false},"axis":{"offset":-54.6,"labelPadding":1,"values":[0.6,0.8,1.0,1.2,1.4,1.6,1.8,2.0,2.2,2.4,2.6,2.8],"format":".1f"}},"y":{"datum":0.4,"scale":{"domain":[0.125,3.1275],"nice":false,"zero":false},"axis":{"offset":-62.9,"labelPadding":4,"values":[0.6,0.8,1.0,1.2,1.4,1.6,1.8,2.0,2.2,2.4,2.6,2.8],"format":".1f"}},"y2":{"datum":2.9955}}},
{"data":{"name":"ticks"},"mark":{"type":"rule","color":"#b6b6b6","strokeWidth":1.5},"encoding":{"y":{"field":"v","type":"quantitative"},"x":{"datum":0.4},"x2":{"datum":2.997}}},
{"data":{"values":[{"a":0.4}]},"mark":{"type":"rule","color":"#dedede","strokeWidth":1},"encoding":{"x":{"datum":0.2443},"y":{"datum":0.296},"y2":{"datum":3.03}}},
{"data":{"name":"grey"},"mark":{"type":"area","orient":"horizontal","color":"#b0b0b0"},"encoding":{"y":{"field":"de","type":"quantitative"},"x":{"field":"di0","type":"quantitative"},"x2":{"field":"di1"},"detail":{"field":"part"}}},
{"data":{"name":"whiteDots"},"mark":{"type":"square","size":6,"color":"white","opacity":1},"encoding":{"x":{"field":"di","type":"quantitative"},"y":{"field":"de","type":"quantitative"}}},
{"data":{"name":"greyDots"},"mark":{"type":"square","size":5,"color":"#b4b4b4","opacity":1},"encoding":{"x":{"field":"di","type":"quantitative"},"y":{"field":"de","type":"quantitative"}}},
{"data":{"name":"blue_f"},"mark":{"type":"area","orient":"horizontal"},"encoding":{"y":{"field":"de","type":"quantitative"},"x":{"field":"di0","type":"quantitative"},"x2":{"field":"di1"},"detail":{"field":"part"},"color":{"field":"lvl","type":"nominal","legend":null,"scale":{"domain":["f","s","m","h","g"],"range":["#1b2ad6","#0a2ee6","#0c52ee","#2c90f0","#b0b0b0"]}},"opacity":{"field":"lvl","type":"nominal","legend":null,"scale":{"domain":["f","s","m","h","g"],"range":[0.8,1,0.9,0.8,1]}}}},
{"data":{"name":"dots_f"},"mark":{"type":"square","size":8,"color":"#1428c8","opacity":1},"encoding":{"x":{"field":"di","type":"quantitative"},"y":{"field":"de","type":"quantitative"}}},
{"data":{"values":[{"a":0.4}]},"mark":{"type":"rule","color":"black","strokeWidth":1},"encoding":{"x":{"datum":0.4},"y":{"datum":0.4},"y2":{"datum":2.9955}}},
{"data":{"values":[{"a":0.4}]},"mark":{"type":"rule","color":"black","strokeWidth":1},"encoding":{"x":{"datum":2.997},"y":{"datum":0.4},"y2":{"datum":2.9955}}},
{"data":{"values":[{"a":0.4}]},"mark":{"type":"rule","color":"black","strokeWidth":1},"encoding":{"y":{"datum":0.4},"x":{"datum":0.4},"x2":{"datum":2.997}}},
{"data":{"values":[{"a":0.4}]},"mark":{"type":"rule","color":"black","strokeWidth":1},"encoding":{"y":{"datum":2.9955},"x":{"datum":0.4},"x2":{"datum":2.997}}},
{"data":{"values":[{"di":0.503,"de":2.898,"t":"d e"},{"di":2.901,"de":0.4985,"t":"d i"}]},"mark":{"type":"text","font":"DejaVu Sans","fontWeight":"bold","fontStyle":"italic","fontSize":15,"color":"#111"},"encoding":{"x":{"field":"di","type":"quantitative"},"y":{"field":"de","type":"quantitative"},"text":{"field":"t"}}},
{"data":{"values":[{"di":0.942,"de":0.677,"t":"C···C: 3 %"}]},"mark":{"type":"text","font":"Liberation Serif","fontWeight":"bold","fontSize":26,"color":"black"},"encoding":{"x":{"field":"di","type":"quantitative"},"y":{"field":"de","type":"quantitative"},"text":{"field":"t"}}},
{"data":{"values":[{"di":1.636,"de":0.2035,"t":"(f)"}]},"mark":{"type":"text","font":"Liberation Serif","fontStyle":"italic","fontSize":24,"color":"black"},"encoding":{"x":{"field":"di","type":"quantitative"},"y":{"field":"de","type":"quantitative"},"text":{"field":"t"}}}
]}
]}
]}
